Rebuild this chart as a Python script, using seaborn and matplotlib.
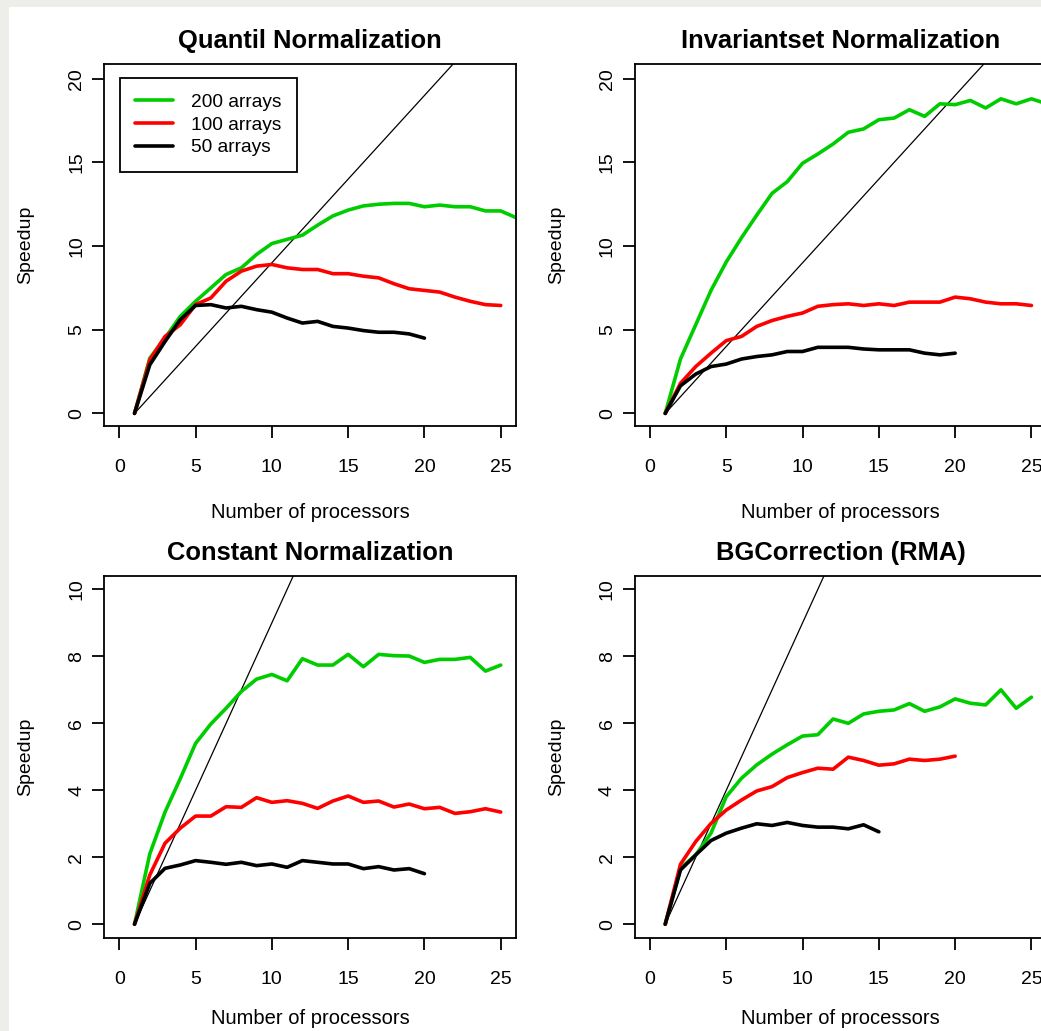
import matplotlib
matplotlib.use("Agg")
import matplotlib.pyplot as plt
import pandas as pd
import seaborn as sns
from matplotlib.patches import Rectangle

# Data (x = number of processors, y = speedup)
procs = list(range(1, 27))
ideal = [0, 1, 2, 3, 4, 5, 6, 7, 8, 9, 10, 11, 12, 13, 14, 15, 16, 17, 18, 19,
         20, 21, 22, 23, 24, 25]
labels = ["200 arrays", "100 arrays", "50 arrays"]
colors = ["#00cd00", "#ff0000", "#000000"]

quantil_200 = [0, 3.3, 4.5, 5.8, 6.7, 7.5, 8.3, 8.7, 9.5, 10.15, 10.4, 10.65, 11.25,
               11.8, 12.15, 12.4, 12.5, 12.55, 12.55, 12.35, 12.45, 12.35, 12.35,
               12.1, 12.1, 11.7]
quantil_100 = [0, 3.2, 4.6, 5.3, 6.5, 6.9, 7.9, 8.5, 8.8, 8.9, 8.7, 8.6, 8.6, 8.35,
               8.35, 8.2, 8.1, 7.75, 7.45, 7.35, 7.25, 6.95, 6.7, 6.5, 6.45]
quantil_50 = [0, 2.9, 4.3, 5.6, 6.45, 6.5, 6.3, 6.4, 6.2, 6.05, 5.7, 5.4, 5.5, 5.2,
              5.1, 4.95, 4.85, 4.85, 4.75, 4.5]

invariant_200 = [0, 3.25, 5.3, 7.35, 9.05, 10.5, 11.85, 13.15, 13.85, 14.95, 15.5,
                 16.1, 16.8, 17.0, 17.55, 17.65, 18.15, 17.75, 18.5, 18.45, 18.7,
                 18.25, 18.8, 18.5, 18.8, 18.5]
invariant_100 = [0, 1.8, 2.8, 3.6, 4.35, 4.6, 5.2, 5.55, 5.8, 6.0, 6.4, 6.5, 6.55,
                 6.45, 6.55, 6.45, 6.65, 6.65, 6.65, 6.95, 6.85, 6.65, 6.55, 6.55, 6.45]
invariant_50 = [0, 1.65, 2.35, 2.8, 2.95, 3.25, 3.4, 3.5, 3.7, 3.7, 3.95, 3.95, 3.95,
                3.85, 3.8, 3.8, 3.8, 3.6, 3.5, 3.6]

constant_200 = [0, 2.1, 3.35, 4.35, 5.4, 5.98, 6.45, 6.95, 7.32, 7.46, 7.27, 7.93,
                7.74, 7.74, 8.06, 7.69, 8.06, 8.02, 8.01, 7.82, 7.91, 7.91, 7.97,
                7.56, 7.74]
constant_100 = [0, 1.47, 2.42, 2.87, 3.23, 3.23, 3.51, 3.49, 3.78, 3.64, 3.69, 3.61,
                3.46, 3.68, 3.83, 3.64, 3.68, 3.5, 3.59, 3.45, 3.49, 3.31, 3.36,
                3.45, 3.35]
constant_50 = [0, 1.22, 1.67, 1.77, 1.9, 1.85, 1.79, 1.85, 1.75, 1.8, 1.7, 1.9, 1.85,
               1.8, 1.8, 1.66, 1.72, 1.62, 1.66, 1.51]

bgcorr_200 = [0, 1.67, 2.07, 2.72, 3.81, 4.36, 4.76, 5.08, 5.36, 5.62, 5.66, 6.13,
              6.0, 6.28, 6.36, 6.4, 6.59, 6.36, 6.49, 6.73, 6.6, 6.55, 7.0, 6.45, 6.78]
bgcorr_100 = [0, 1.79, 2.47, 3.01, 3.41, 3.71, 3.98, 4.11, 4.38, 4.53, 4.66, 4.63,
              4.99, 4.89, 4.75, 4.79, 4.93, 4.89, 4.93, 5.02]
bgcorr_50 = [0, 1.62, 2.07, 2.5, 2.72, 2.87, 3.0, 2.95, 3.04, 2.95, 2.9, 2.9, 2.85,
             2.97, 2.76]

panels = [
    ("Quantil Normalization", [quantil_200, quantil_100, quantil_50],
     [0, 5, 10, 15, 20], (-0.77, 20.88)),
    ("Invariantset Normalization", [invariant_200, invariant_100, invariant_50],
     [0, 5, 10, 15, 20], (-0.77, 20.88)),
    ("Constant Normalization", [constant_200, constant_100, constant_50],
     [0, 2, 4, 6, 8, 10], (-0.42, 10.4)),
    ("BGCorrection (RMA)", [bgcorr_200, bgcorr_100, bgcorr_50],
     [0, 2, 4, 6, 8, 10], (-0.42, 10.4)),
]


def long_frame(series):
    rows = []
    for lab, vals in zip(labels, series):
        for p, v in zip(procs, vals):
            rows.append({"procs": p, "speedup": v, "arrays": lab})
    return pd.DataFrame(rows)


sns.set_style("white")
plt.rcParams["font.family"] = ["Liberation Sans", "DejaVu Sans"]
plt.rcParams["axes.edgecolor"] = "black"
plt.rcParams["text.color"] = "black"
plt.rcParams["axes.labelcolor"] = "black"
plt.rcParams["xtick.color"] = "black"
plt.rcParams["ytick.color"] = "black"

W, H = 1041, 1031
fig = plt.figure(figsize=(W / 100, H / 100), dpi=100, facecolor="white")
# grey frame strip on the left and top of the original screenshot
fig.add_artist(Rectangle((0, 0), 8.7 / W, 1, transform=fig.transFigure,
                         facecolor="#ededea", edgecolor="none", zorder=0))
fig.add_artist(Rectangle((0, 1 - 7 / H), 1, 7 / H, transform=fig.transFigure,
                         facecolor="#ededea", edgecolor="none", zorder=0))

# axes boxes in pixels: (left, top)
boxes = [(104, 64), (634.7, 64), (104, 576), (634.7, 576)]
bw, bh = 412, 362.3

for i, (title, series, yticks, ylim) in enumerate(panels):
    left, top = boxes[i]
    ax = fig.add_axes([left / W, (H - top - bh) / H, bw / W, bh / H])
    ax.set_facecolor("white")

    sns.lineplot(x=procs, y=ideal, color="black", linewidth=0.9, ax=ax)
    df = long_frame(series)
    sns.lineplot(data=df, x="procs", y="speedup", hue="arrays",
                 hue_order=labels, palette=colors, estimator=None, sort=False,
                 linewidth=2.6, ax=ax, legend=(i == 0))

    ax.set_xlim(-1, 26)
    ax.set_ylim(*ylim)
    ax.set_xticks([0, 5, 10, 15, 20, 25])
    ax.set_yticks(yticks)
    ax.tick_params(axis="both", direction="out", length=8.6, width=1.3,
                   labelsize=14, bottom=True, left=True)
    ax.tick_params(axis="x", pad=15)
    ax.tick_params(axis="y", pad=5, labelrotation=90)
    for lab in ax.get_yticklabels():
        lab.set_va("center")
    for sp in ax.spines.values():
        sp.set_linewidth(1.3)
        sp.set_color("black")

    ax.set_title(title, fontsize=18.4, fontweight="bold", pad=11.5)
    ax.set_xlabel("Number of processors", fontsize=14.5, va="center")
    ax.set_ylabel("Speedup", fontsize=14, va="center")
    # bottom row labels sit right at the image edge; keep them just inside
    ax.xaxis.set_label_coords(0.5, -(86 if i < 2 else 80) / bh)
    ax.yaxis.set_label_coords(-78 / bw, 0.5)

    if i == 0:
        sns.move_legend(ax, "upper left", bbox_to_anchor=(16 / bw, 1 - 14.3 / bh),
                        borderaxespad=0, title=None, frameon=True, fancybox=False,
                        edgecolor="black", framealpha=1, fontsize=13.8,
                        handlelength=1.95, handletextpad=0.95, labelspacing=0.27,
                        borderpad=0.8)
        ax.get_legend().get_frame().set_linewidth(1.3)

fig.savefig("out.png", dpi=100, facecolor=fig.get_facecolor())
